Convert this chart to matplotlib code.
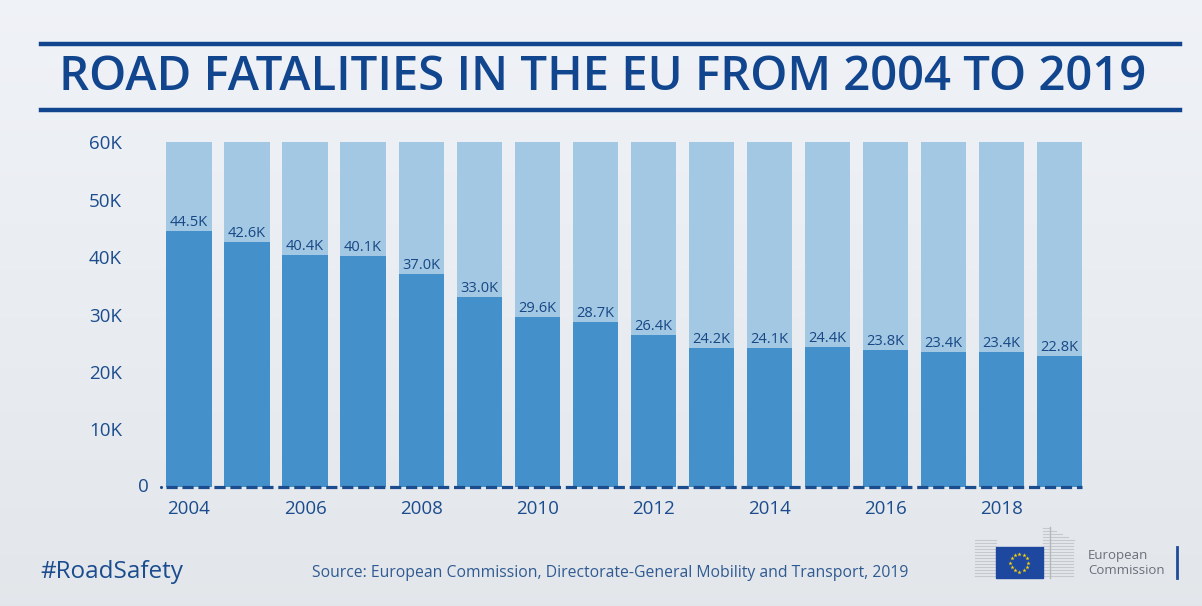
import numpy as np
import matplotlib
matplotlib.use('Agg')
import matplotlib.pyplot as plt
from matplotlib.patches import Rectangle

# dane
lata = [2004, 2005, 2006, 2007, 2008, 2009, 2010, 2011,
        2012, 2013, 2014, 2015, 2016, 2017, 2018, 2019]
ofiary = [44.5, 42.6, 40.4, 40.1, 37.0, 33.0, 29.6, 28.7,
          26.4, 24.2, 24.1, 24.4, 23.8, 23.4, 23.4, 22.8]   # tysiace
tloMax = 60
yTicks = [10, 20, 30, 40, 50, 60]
xTicks = [2004, 2006, 2008, 2010, 2012, 2014, 2016, 2018]
tytul = "ROAD FATALITIES IN THE EU FROM 2004 TO 2019"
zrodlo = "Source: European Commission, Directorate-General Mobility and Transport, 2019"

W, H = 1202, 606
ciemny = '#4490cb'
jasny = '#a3c8e3'
granat = '#1b4c8e'
tytulKolor = '#11468f'

plt.rcParams['font.family'] = ['Open Sans', 'DejaVu Sans']


def px(x0, y0, x1, y1):
    # prostokat w pikselach (od gory) -> wspolrzedne figury
    return [x0 / W, 1 - y1 / H, (x1 - x0) / W, (y1 - y0) / H]


fig = plt.figure(figsize=(W / 100, H / 100), dpi=100)

# tlo z gradientem
tlo = fig.add_axes([0, 0, 1, 1])
grad = np.linspace(0, 1, 200).reshape(-1, 1)
kolory = np.array([[0.94, 0.95, 0.97], [0.89, 0.905, 0.92]])
obraz = kolory[0] * (1 - grad[..., None]) + kolory[1] * grad[..., None]
obraz = np.repeat(obraz, 2, axis=1)
tlo.imshow(obraz, aspect='auto', extent=[0, 1, 0, 1])
tlo.set_xlim(0, 1)
tlo.set_ylim(0, 1)
tlo.axis('off')

# tytul i linie
fig.add_artist(plt.Line2D([41 / W, 1180 / W], [1 - 44 / H] * 2, color=tytulKolor, lw=3.2))
fig.add_artist(plt.Line2D([41 / W, 1180 / W], [1 - 110 / H] * 2, color=tytulKolor, lw=3.2))
fig.text(603 / W, 1 - 78 / H, tytul, ha='center', va='center', fontsize=34,
         fontweight='semibold', color=tytulKolor)

# wykres
ax = fig.add_axes(px(140, 130, 1100, 487))
ax.patch.set_alpha(0)
naRok = (1059.5 - 189) / 15
ax.set_xlim(2004 - (189 - 140) / naRok, 2019 + (1100 - 1059.5) / naRok)
ax.set_ylim(0, (487 - 130) / 5.75)

szer = 0.78
ax.bar(lata, [tloMax] * len(lata), width=szer, color=jasny, zorder=1)
ax.bar(lata, ofiary, width=szer, color=ciemny, zorder=2)
for rok, v in zip(lata, ofiary):
    ax.text(rok, v + 0.2, f'{v:.1f}K', ha='center', va='bottom', fontsize=10.5,
            color='#174785', zorder=3)

ax.plot([lata[0] - szer / 2, lata[-1] + szer / 2], [0, 0], color=granat, lw=2.3,
        dashes=(3.5, 1.5), clip_on=False, zorder=4)

for s in ax.spines.values():
    s.set_visible(False)
ax.set_yticks(yTicks)
ax.set_yticklabels([f'{t}K' for t in yTicks])
ax.set_xticks(xTicks)
ax.set_xticklabels([str(t) for t in xTicks])
ax.tick_params(axis='y', length=0, pad=13, labelsize=13.5, labelcolor=granat)
ax.tick_params(axis='x', length=0, pad=9, labelsize=13.5, labelcolor=granat)
ax.text(0.009, 0, '0', transform=ax.get_yaxis_transform(), ha='right', va='center',
        fontsize=13.5, color=granat)
ax.plot([lata[0] - szer / 2 - 0.1], [0], marker='.', ms=2.5, color=granat, clip_on=False)

# stopka
fig.text(40 / W, 1 - 572 / H, '#RoadSafety', ha='left', va='center', fontsize=17.5,
         color=granat)
fig.text(312 / W, 1 - 573 / H, zrodlo, ha='left', va='center', fontsize=11.3,
         color='#2f5a92')

# logo KE
logo = fig.add_axes(px(970, 520, 1190, 585))
logo.set_xlim(970, 1190)
logo.set_ylim(585, 520)
logo.axis('off')
for y in np.arange(540, 579, 3):
    logo.plot([975, 996], [y, y], color='#c5c9ce', lw=0.8)
for y in np.arange(528, 579, 3):
    koniec = 1073 if y > 540 else 1050 + (y - 528) * 2
    logo.plot([1043, koniec], [y, y], color='#c5c9ce', lw=0.8)
logo.plot([1050, 1050], [527, 578], color='#b5b9be', lw=1)
logo.add_patch(Rectangle((996, 547), 47, 31, color='#1e47a0', zorder=3))
for k in range(12):
    a = 2 * np.pi * k / 12
    logo.plot(1019.5 + 9 * np.cos(a), 562.5 + 9 * np.sin(a), marker='*', ms=3.2,
              mew=0, color='#f5d20c', zorder=4)
logo.text(1088, 555, 'European', ha='left', va='center', fontsize=9.5, color='#6b6f78')
logo.text(1088, 571, 'Commission', ha='left', va='center', fontsize=9.5, color='#6b6f78')
logo.plot([1177, 1177], [547, 578], color='#1f4b9a', lw=2)

fig.savefig('out.png', dpi=100)
